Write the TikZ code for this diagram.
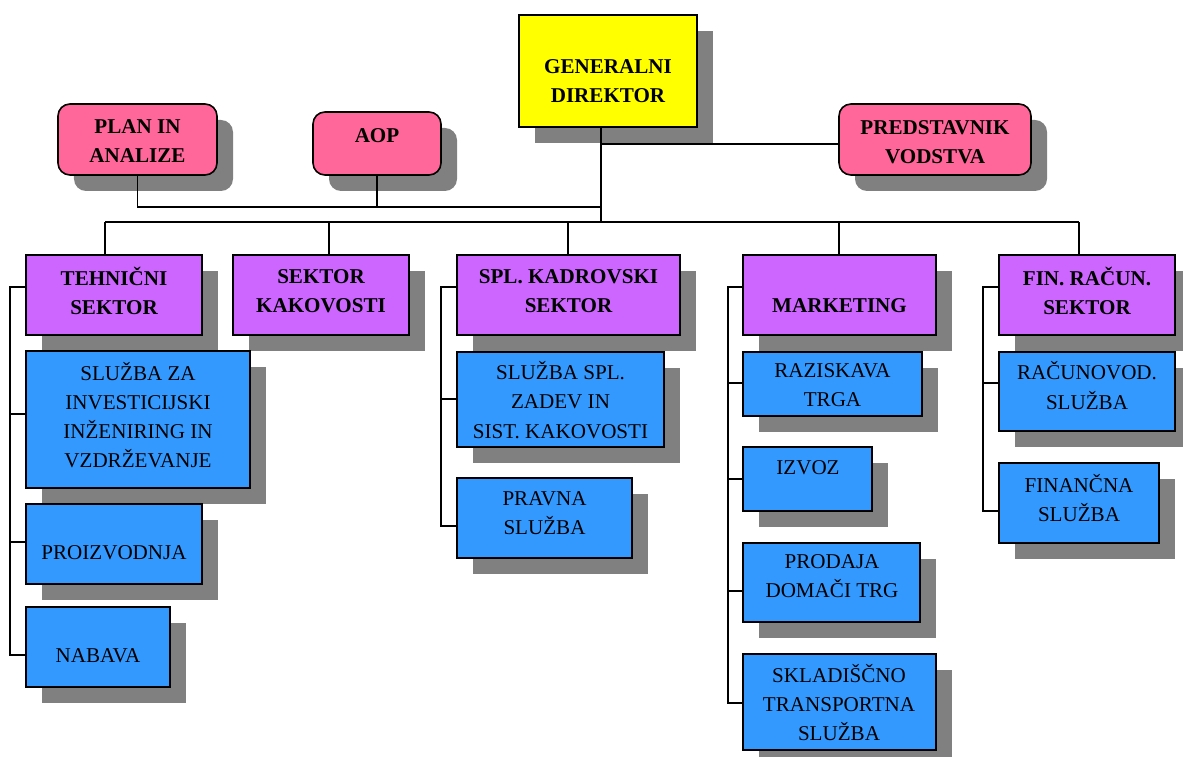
\documentclass[tikz,border=0pt]{standalone}
\usepackage{fontspec}
\setmainfont{Liberation Serif}
\usetikzlibrary{fit, calc, shadows}
\definecolor{gdyellow}{HTML}{FFFF00}
\definecolor{staffpink}{HTML}{FF6699}
\definecolor{sectorviolet}{HTML}{CC66FF}
\definecolor{unitblue}{HTML}{3399FF}
\definecolor{shadowgray}{HTML}{808080}
\tikzset{
    box/.style={draw=black, line width=0.9pt, inner sep=0pt,
      drop shadow={shadow xshift=0.32cm, shadow yshift=-0.32cm, opacity=1,
        fill=shadowgray, draw=none}},
    staff/.style={box, fill=staffpink, rounded corners=0.24cm},
    sector/.style={box, fill=sectorviolet},
    unit/.style={box, fill=unitblue},
    label text/.style={inner sep=0pt, align=center, font=\fontsize{12}{16.6}\selectfont},
    head text/.style={label text, font=\fontsize{12}{16.6}\selectfont\bfseries},
    link/.style={draw=black, line width=0.8pt},
}

\begin{document}
\begin{tikzpicture}[x=0.02cm, y=-0.02cm]
    \useasboundingbox (0,0) rectangle (1183,757);

    % vodstvo
    \node[box, fill=gdyellow, fit={(519,15) (697,127)}] (gd) {};
    \node[staff, fit={(58,104) (217,175)}] (plan) {};
    \node[staff, fit={(313,112) (441,175)}] (aop) {};
    \node[staff, fit={(839,104) (1031,175)}] (pv) {};

    % sektorji
    \node[sector, fit={(26,255) (202,335)}] (teh) {};
    \node[sector, fit={(233,255) (409,335)}] (kak) {};
    \node[sector, fit={(457,255) (680,335)}] (kadr) {};
    \node[sector, fit={(743,255) (936,335)}] (mark) {};
    \node[sector, fit={(999,255) (1175,335)}] (fin) {};

    % sluzbe
    \node[unit, fit={(26,351) (250,488)}] (inv) {};
    \node[unit, fit={(26,504) (202,584)}] (proizv) {};
    \node[unit, fit={(26,607) (170,687)}] (nab) {};
    \node[unit, fit={(457,352) (664,447)}] (spl) {};
    \node[unit, fit={(457,478) (632,558)}] (prav) {};
    \node[unit, fit={(743,352) (922,416)}] (razisk) {};
    \node[unit, fit={(743,447) (872,511)}] (izvoz) {};
    \node[unit, fit={(743,543) (920,622)}] (prodaja) {};
    \node[unit, fit={(743,654) (936,750)}] (sklad) {};
    \node[unit, fit={(999,352) (1175,431)}] (racun) {};
    \node[unit, fit={(999,463) (1159,543)}] (financ) {};

    % napisi
    \node[head text] (gd-t) at (608,81) {GENERALNI\\DIREKTOR};
    \node[head text] (plan-t) at (137.5,141) {PLAN IN\\ANALIZE};
    \node[head text] (aop-t) at (377,136) {AOP};
    \node[head text] (pv-t) at (935,142) {PREDSTAVNIK\\VODSTVA};
    \node[head text] (teh-t) at (114,291) {TEHNIČNI\\SEKTOR};
    \node[head text] (kak-t) at (321,291) {SEKTOR\\KAKOVOSTI};
    \node[head text] (kadr-t) at (568.5,291) {SPL. KADROVSKI\\SEKTOR};
    \node[head text] (mark-t) at (839.5,306) {MARKETING};
    \node[head text] (fin-t) at (1087,291) {FIN. RAČUN.\\SEKTOR};
    \node[label text] (inv-t) at (138,415) {SLUŽBA ZA\\INVESTICIJSKI\\INŽENIRING IN\\VZDRŽEVANJE};
    \node[label text] (proizv-t) at (114,553) {PROIZVODNJA};
    \node[label text] (nab-t) at (98,656) {NABAVA};
    \node[label text] (spl-t) at (560.5,400) {SLUŽBA SPL.\\ZADEV IN\\SIST. KAKOVOSTI};
    \node[label text] (prav-t) at (544.5,513.5) {PRAVNA\\SLUŽBA};
    \node[label text] (razisk-t) at (832.5,385.5) {RAZISKAVA\\TRGA};
    \node[label text] (izvoz-t) at (808,468) {IZVOZ};
    \node[label text] (prodaja-t) at (832,576.5) {PRODAJA\\DOMAČI TRG};
    \node[label text] (sklad-t) at (839,702.5) {SKLADIŠČNO\\TRANSPORTNA\\SLUŽBA};
    \node[label text] (racun-t) at (1087,385.5) {RAČUNOVOD.\\SLUŽBA};
    \node[label text] (financ-t) at (1079,498) {FINANČNA\\SLUŽBA};

    % povezave
    \coordinate (hub) at (601,222);
    \draw[link] (gd.south -| hub) -- (hub);
    \draw[link] (hub |- 0,144) -- (pv.west |- 0,144);
    \draw[link] (plan.south) |- (hub |- 0,207);
    \draw[link] (aop.south) -- (aop.south |- 0,207);
    \draw[link] (105,222) -- (1079,222);
    \foreach \s/\x in {teh/105, kak/329, kadr/568, mark/839, fin/1079}
      \draw[link] (\x,222) -- (\s.north -| \x,0);

    \draw[link] (teh.west |- 0,287) -| (10,655) -- (nab.west |- 0,655);
    \foreach \n/\y in {inv/414, proizv/542}
      \draw[link] (10,\y) -- (\n.west |- 0,\y);

    \draw[link] (kadr.west |- 0,287) -| (441,526) -- (prav.west |- 0,526);
    \draw[link] (441,399) -- (spl.west |- 0,399);

    \draw[link] (mark.west |- 0,287) -| (728,703) -- (sklad.west |- 0,703);
    \foreach \n/\y in {razisk/383, izvoz/479, prodaja/591}
      \draw[link] (728,\y) -- (\n.west |- 0,\y);

    \draw[link] (fin.west |- 0,287) -| (983,511) -- (financ.west |- 0,511);
    \draw[link] (983,383) -- (racun.west |- 0,383);

\end{tikzpicture}
\end{document}
